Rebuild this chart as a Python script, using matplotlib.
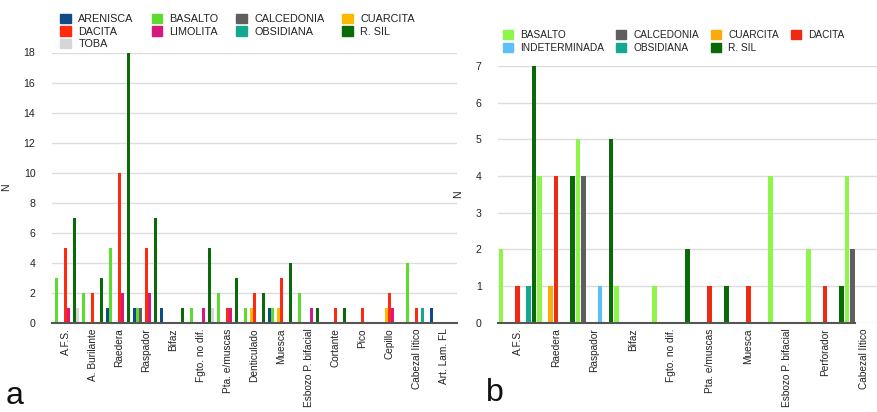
import numpy as np
import matplotlib
matplotlib.use("Agg")
import matplotlib.pyplot as plt
from matplotlib.patches import Patch

plt.rcParams['font.family'] = ['Liberation Sans', 'DejaVu Sans']

# ---- panel a data ----
cats_a = ["A.F.S.", "A. Burilante", "Raedera", "Raspador", "Bifaz", "Fgto. no dif.",
          "Pta. e/muscas", "Denticulado", "Muesca", "Esbozo P. bifacial", "Cortante",
          "Pico", "Cepillo", "Cabezal lítico", "Art. Lam. FL"]
arenisca_a = [0, 0, 1, 1, 1, 0, 0, 0, 1, 0, 0, 0, 0, 0, 1]
basalto_a = [3, 2, 5, 1, 0, 1, 2, 1, 1, 2, 0, 0, 0, 4, 0]
calcedonia_a = [0, 0, 0, 1, 0, 0, 0, 0, 0, 0, 0, 0, 0, 0, 0]
cuarcita_a = [0, 0, 0, 0, 0, 0, 0, 1, 1, 0, 0, 0, 1, 0, 0]
dacita_a = [5, 2, 10, 5, 0, 0, 1, 2, 3, 0, 1, 1, 2, 1, 0]
limolita_a = [1, 0, 2, 2, 0, 1, 1, 0, 0, 1, 0, 0, 1, 0, 0]
obsidiana_a = [0, 0, 0, 0, 0, 0, 0, 0, 0, 0, 0, 0, 0, 1, 0]
rsil_a = [7, 3, 18, 7, 1, 5, 3, 2, 4, 1, 1, 0, 0, 0, 0]
toba_a = [1, 0, 0, 0, 0, 1, 0, 0, 0, 0, 0, 0, 0, 0, 0]

names_a = ["ARENISCA", "BASALTO", "CALCEDONIA", "CUARCITA", "DACITA",
           "LIMOLITA", "OBSIDIANA", "R. SIL", "TOBA"]
series_a = [arenisca_a, basalto_a, calcedonia_a, cuarcita_a, dacita_a,
            limolita_a, obsidiana_a, rsil_a, toba_a]
colors_a = ["#0d4c85", "#5ddb2e", "#5f5f5f", "#fcb900", "#ff2a0d",
            "#d6187f", "#14a98f", "#0a6a0a", "#d6d6d6"]

# ---- panel b data ----
cats_b = ["A.F.S.", "Raedera", "Raspador", "Bifaz", "Fgto. no dif.", "Pta. e/muscas",
          "Muesca", "Esbozo P. bifacial", "Perforador", "Cabezal lítico"]
basalto_b = [2, 4, 5, 1, 1, 0, 0, 4, 2, 4]
calcedonia_b = [0, 0, 4, 0, 0, 0, 0, 0, 0, 2]
cuarcita_b = [0, 1, 0, 0, 0, 0, 0, 0, 0, 0]
dacita_b = [1, 4, 0, 0, 0, 1, 1, 0, 1, 0]
indet_b = [0, 0, 1, 0, 0, 0, 0, 0, 0, 0]
obsidiana_b = [1, 0, 0, 0, 0, 0, 0, 0, 0, 0]
rsil_b = [7, 4, 5, 0, 2, 1, 0, 0, 1, 0]

names_b = ["BASALTO", "CALCEDONIA", "CUARCITA", "DACITA",
           "INDETERMINADA", "OBSIDIANA", "R. SIL"]
series_b = [basalto_b, calcedonia_b, cuarcita_b, dacita_b, indet_b, obsidiana_b, rsil_b]
colors_b = ["#8ef54a", "#5f5f5f", "#fcab0c", "#ee2a12", "#5bc0f7", "#14a98f", "#0a6a0a"]

W, H = 877, 412
FS = 7.6      # y ticks / N
FS_X = 7.3    # category labels
fig = plt.figure(figsize=(W / 100, H / 100), dpi=100)


def px_axes(x0, y0, x1, y1):
    return fig.add_axes([x0 / W, 1 - y1 / H, (x1 - x0) / W, (y1 - y0) / H])


def draw_panel(ax, cats, series, colors, ymax, yticks, xmax, spine_end):
    n = len(series)
    idx = np.arange(len(cats))
    for j, (vals, col) in enumerate(zip(series, colors)):
        ax.bar(idx + (j + 0.5) / n, vals, width=0.85 / n, color=col, zorder=3)
    ax.set_xlim(0, xmax)
    ax.set_ylim(0, ymax)
    ax.set_yticks(yticks)
    ax.set_xticks(idx + 0.5)
    ax.set_xticklabels(cats, rotation=90, fontsize=FS_X, color="#222")
    ax.tick_params(axis="both", length=0, colors="#222")
    ax.tick_params(axis="y", pad=12, labelsize=FS)
    ax.tick_params(axis="x", pad=4)
    ax.yaxis.grid(True, color="#dcdcdc", lw=1, zorder=0)
    for s in ["top", "right", "left"]:
        ax.spines[s].set_visible(False)
    ax.spines["bottom"].set_color("#555555")
    ax.spines["bottom"].set_linewidth(1.5)
    ax.spines["bottom"].set_zorder(4)
    ax.spines["bottom"].set_bounds(0, spine_end)
    ax.set_ylabel("N", fontsize=FS, color="#222", labelpad=9)


ax_a = px_axes(52, 52.5, 457, 322.7)
draw_panel(ax_a, cats_a, series_a, colors_a, 18, range(0, 19, 2), 15, 15)

ax_b = px_axes(498.3, 66, 877, 322.7)
draw_panel(ax_b, cats_b, series_b, colors_b, 7, range(0, 8), 9.85, 9 + 2 / 7)

# legends (order arranged so columns read row-wise)
order_a = [0, 4, 8, 1, 5, 2, 6, 3, 7]
h_a = [Patch(color=colors_a[k], label=names_a[k]) for k in order_a]
fig.legend(handles=h_a, ncol=4, loc="upper left", bbox_to_anchor=(55 / W, 1 - 8.5 / H),
           frameon=False, fontsize=7.8, borderpad=0, handlelength=0.95, handleheight=0.95,
           handletextpad=0.7, columnspacing=1.65, labelspacing=0.2, labelcolor="#222")

order_b = [0, 4, 1, 5, 2, 6, 3]
h_b = [Patch(color=colors_b[k], label=names_b[k]) for k in order_b]
fig.legend(handles=h_b, ncol=4, loc="upper left", bbox_to_anchor=(498 / W, 1 - 25 / H),
           frameon=False, fontsize=7.3, borderpad=0, handlelength=0.98, handleheight=0.98,
           handletextpad=0.7, columnspacing=1.2, labelspacing=0.25, labelcolor="#222")

fig.text(6 / W, 1 - 404 / H, "a", fontsize=23, color="#111")
fig.text(486 / W, 1 - 401 / H, "b", fontsize=23, color="#111")

fig.savefig("out.png", dpi=100)
